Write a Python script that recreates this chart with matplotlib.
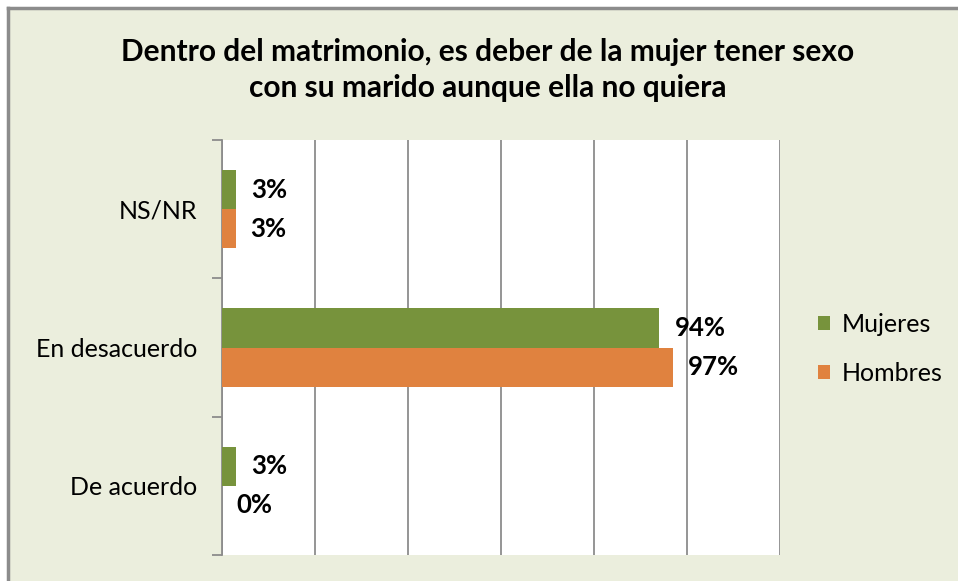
import matplotlib.pyplot as plt
from matplotlib.patches import Rectangle
from matplotlib.lines import Line2D

plt.rcParams["font.family"] = ["Lato", "DejaVu Sans"]

categories = ["De acuerdo", "En desacuerdo", "NS/NR"]
mujeres = [3, 94, 3]
hombres = [0, 97, 3]
series_names = ["Mujeres", "Hombres"]
title = "Dentro del matrimonio, es deber de la mujer tener sexo\ncon su marido aunque ella no quiera"

green = "#77933C"
orange = "#E0823F"
bg = "#EBEEDD"

W, H = 958, 581
fig = plt.figure(figsize=(W / 100, H / 100), dpi=100, facecolor=bg)

# white strip outside the chart frame (top/left), grey frame lines
fig.patches.append(Rectangle((0, 1 - 8 / H), 1, 1, transform=fig.transFigure,
                             facecolor="white", edgecolor="none", zorder=-5))
fig.patches.append(Rectangle((0, 0), 7.5 / W, 1, transform=fig.transFigure,
                             facecolor="white", edgecolor="none", zorder=-5))
fig.add_artist(Line2D([7.5 / W, 7.5 / W], [0, 1 - 8 / H], color="#8C8C8C", lw=2.5))
fig.add_artist(Line2D([7.5 / W, 1], [1 - 8 / H, 1 - 8 / H], color="#8C8C8C", lw=2.5))

ax = fig.add_axes([222 / W, 1 - 555 / H, (780 - 222) / W, (555 - 140) / H])
ax.set_facecolor("white")

h = 0.283
ypos = list(range(len(categories)))
ax.barh([y + h / 2 for y in ypos], mujeres, height=h, color=green, label=series_names[0], zorder=3)
ax.barh([y - h / 2 for y in ypos], hombres, height=h, color=orange, label=series_names[1], zorder=3)

ax.set_xlim(0, 120)
ax.set_ylim(-0.5, 2.5)
ax.set_xticks([0, 20, 40, 60, 80, 100, 120])
ax.set_xticklabels([])
ax.tick_params(axis="x", length=0)
ax.grid(axis="x", color="#8C8C8C", lw=1.3, zorder=1)

ax.set_yticks([-0.5, 0.5, 1.5, 2.5], minor=False)
ax.set_yticklabels([])
ax.tick_params(axis="y", which="major", length=7, color="#8C8C8C", width=1.3)
ax.set_yticks(ypos, minor=True)
ax.set_yticklabels(categories, minor=True, fontsize=18)
ax.tick_params(axis="y", which="minor", length=0, pad=18)

for s in ["top", "right", "bottom"]:
    ax.spines[s].set_visible(False)
ax.spines["left"].set_color("#8C8C8C")
ax.spines["left"].set_linewidth(1.3)

for y, v in zip(ypos, mujeres):
    ax.annotate(f"{v}%", (v, y + h / 2), xytext=(11, 0), textcoords="offset points",
                ha="left", va="center", fontsize=18.5, fontweight="bold", zorder=4)
for y, v in zip(ypos, hombres):
    ax.annotate(f"{v}%", (v, y - h / 2), xytext=(10.5, 0), textcoords="offset points",
                ha="left", va="center", fontsize=18.5, fontweight="bold", zorder=4)

fig.text(488 / W, 1 - 70 / H, title, ha="center", va="center", fontsize=21.5,
         fontweight="bold", linespacing=1.35)

leg = fig.legend(loc="center left", bbox_to_anchor=(795 / W, 1 - 349 / H), frameon=False,
                 fontsize=18, handlelength=0.5, handleheight=0.5, handletextpad=0.45,
                 labelspacing=1.05)

fig.savefig("out.png", dpi=100, facecolor=fig.get_facecolor())
